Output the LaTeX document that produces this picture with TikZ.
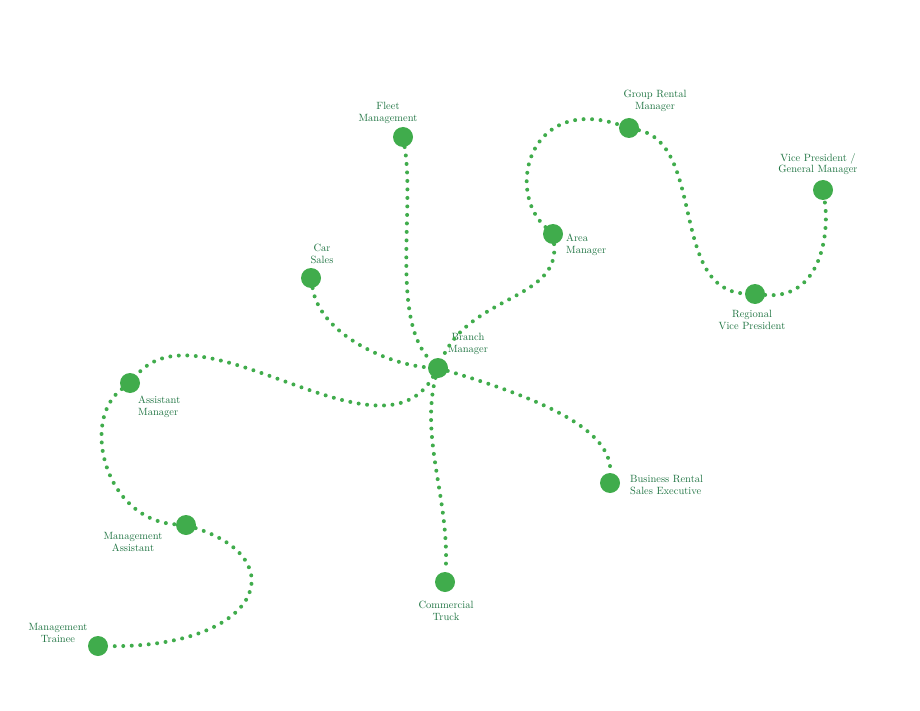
\documentclass[tikz,border=0pt]{standalone}
\usepackage{xcolor}
\definecolor{dotgreen}{RGB}{64,172,76}
\definecolor{textgreen}{RGB}{30,115,65}
\tikzset{
    stop/.style = {
        circle,
        fill = dotgreen,
        minimum size=20pt,
        inner sep=0pt,
        },
    label/.style = {
        text = textgreen,
        align = center,
        font = \fontsize{10.5}{11.5}\selectfont,
        inner sep=0pt,
        },
    trail/.style = {
        draw = dotgreen,
        line width=4pt,
        line cap=round,
        dash pattern=on 0pt off 8.5pt,
        },
}
\begin{document}
\begin{tikzpicture}[x=1pt,y=-1pt]
            \useasboundingbox (0,0) rectangle (920,711);
            \node[stop] (branch) at (438,368) {};
            \node[stop] (fleet) at (403,137) {};
            \node[stop] (group) at (629,128) {};
            \node[stop] (vp) at (823,190) {};
            \node[stop] (area) at (553,234) {};
            \node[stop] (car) at (311,278) {};
            \node[stop] (regional) at (755,294) {};
            \node[stop] (assistant) at (130,383) {};
            \node[stop] (business) at (610,483) {};
            \node[stop] (massistant) at (186,525) {};
            \node[stop] (commercial) at (445,582) {};
            \node[stop] (trainee) at (98,646) {};

            \node[label] at (388,113) {Fleet\\Management};
            \node[label] at (655,101) {Group Rental\\Manager};
            \node[label] at (818,164) {Vice President /\\General Manager};
            \node[label, align=left, anchor=west] at (566,245) {Area\\Manager};
            \node[label] at (322,254) {Car\\Sales};
            \node[label] at (752,320) {Regional\\Vice President};
            \node[label] at (468,344) {Branch\\Manager};
            \node[label, align=left, anchor=west] at (138,407) {Assistant\\Manager};
            \node[label, align=left, anchor=west] at (630,485) {Business Rental\\Sales Executive};
            \node[label] at (133,542) {Management\\Assistant};
            \node[label] at (446,611) {Commercial\\Truck};
            \node[label] at (58,633) {Management\\Trainee};

            \path[trail] (fleet) .. controls (415,210) and (390,320) .. (branch);
            \path[trail] (car) .. controls (320,335) and (390,365) .. (branch);
            \path[trail] (area) .. controls (560,300) and (470,295) .. (branch);
            \path[trail] (area) .. controls (505,190) and (530,95) .. (group);
            \path[trail] (group) .. controls (705,145) and (670,290) .. (regional);
            \path[trail] (regional) .. controls (820,300) and (830,235) .. (vp);
            \path[trail] (branch) .. controls (545,400) and (612,430) .. (business);
            \path[trail] (branch) .. controls (420,440) and (450,500) .. (commercial);
            \path[trail] (branch) .. controls (380,470) and (200,300) .. (assistant);
            \path[trail] (assistant) .. controls (80,420) and (105,520) .. (massistant);
            \path[trail] (massistant) .. controls (295,560) and (260,648) .. (trainee);
        \end{tikzpicture}
\end{document}
